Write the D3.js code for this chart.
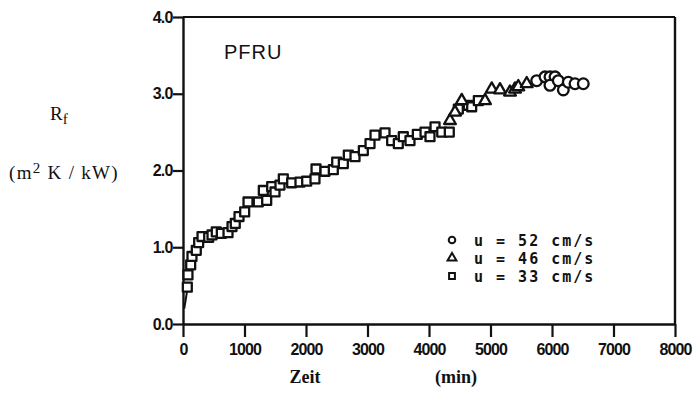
<!DOCTYPE html>
<html>
<head>
<meta charset="utf-8">
<script src="https://cdn.jsdelivr.net/npm/d3@7"></script>
<style>
  body { margin: 0; background: #fff; }
  svg { display: block; }
</style>
</head>
<body>
<div id="chart"></div>
<script>
// data (Zeit in min, Rf in m2K/kW)
var xTicks = [0, 1000, 2000, 3000, 4000, 5000, 6000, 7000, 8000];
var yTicks = [0, 1, 2, 3, 4];

var squareT = [70, 81, 125, 146, 216, 255, 309, 418, 472, 541, 623, 732, 797, 850, 911, 1003, 1057, 1224,
  1361, 1306, 1442, 1496, 1577, 1631, 1767, 1902, 2011, 2146, 2163, 2309, 2444, 2499, 2607, 2688, 2797,
  2932, 3041, 3122, 3285, 3393, 3501, 3582, 3691, 3810, 3935, 4016, 4098, 4207, 4330, 4477, 4639, 4694, 4802];
var squareR = [0.48, 0.64, 0.77, 0.88, 0.96, 1.06, 1.14, 1.13, 1.16, 1.20, 1.18, 1.19, 1.27, 1.31, 1.40, 1.46, 1.59, 1.59,
  1.61, 1.74, 1.79, 1.72, 1.81, 1.89, 1.84, 1.85, 1.86, 1.89, 2.02, 1.99, 2.01, 2.11, 2.09, 2.20, 2.18,
  2.26, 2.35, 2.46, 2.49, 2.39, 2.35, 2.44, 2.39, 2.47, 2.50, 2.44, 2.57, 2.50, 2.50, 2.80, 2.85, 2.83, 2.91];

var triangleT = [4341, 4423, 4532, 4911, 5020, 5154, 5317, 5398, 5452, 5589];
var triangleR = [2.65, 2.76, 2.91, 2.91, 3.06, 3.05, 3.02, 3.06, 3.09, 3.13];

var circleT = [5751, 5886, 5967, 6049, 5967, 6102, 6184, 6265, 6374, 6509];
var circleR = [3.17, 3.22, 3.22, 3.22, 3.11, 3.17, 3.05, 3.15, 3.13, 3.13];

// short hand-drawn start of the curve
var startT = [20, 45, 70];
var startR = [0.2, 0.32, 0.45];

var legendLabels = ["u = 52 cm/s", "u = 46 cm/s", "u = 33 cm/s"];

var svgWidth = 694, svgHeight = 398;

var svg = d3.select("#chart")
  .append("svg")
  .attr("width", svgWidth)
  .attr("height", svgHeight);

var xScale = d3.scaleLinear().domain([0, 8000]).range([183, 675]);
var yScale = d3.scaleLinear().domain([0, 4]).range([324, 17]);

var ink = "#111";
var tickFont = "'Liberation Sans Narrow', 'Arial Narrow', 'Liberation Sans', sans-serif";
var serif = "'Liberation Serif', 'DejaVu Serif', serif";

// axes
var bottomAxis = d3.axisBottom(xScale)
  .tickValues(xTicks)
  .tickSize(13)
  .tickSizeOuter(0)
  .tickFormat(d3.format("d"));

var leftAxis = d3.axisLeft(yScale)
  .tickValues(yTicks)
  .tickSize(10)
  .tickSizeOuter(0)
  .tickFormat(d3.format(".1f"));

var xg = svg.append("g")
  .attr("transform", `translate(0, ${yScale(0)})`)
  .call(bottomAxis);

var yg = svg.append("g")
  .attr("transform", `translate(${xScale(0)}, 0)`)
  .call(leftAxis);

[xg, yg].forEach(g => {
  g.select(".domain").attr("stroke", ink).attr("stroke-width", 2.4);
  g.selectAll(".tick line").attr("stroke", ink).attr("stroke-width", 2.2);
  g.selectAll(".tick text")
    .attr("fill", ink)
    .attr("font-family", tickFont)
    .attr("font-weight", "bold")
    .attr("font-size", 16)
    .attr("letter-spacing", -0.9);
});
xg.selectAll(".tick text").attr("dy", "0.95em");
yg.selectAll(".tick text").attr("dx", "0.15em");

// top and right frame
svg.append("line")
  .attr("x1", xScale(0)).attr("x2", xScale(8000))
  .attr("y1", yScale(4)).attr("y2", yScale(4))
  .attr("stroke", ink).attr("stroke-width", 2.2);
svg.append("line")
  .attr("x1", xScale(8000)).attr("x2", xScale(8000))
  .attr("y1", yScale(4)).attr("y2", yScale(0))
  .attr("stroke", ink).attr("stroke-width", 2.4);

// axis titles
svg.append("text")
  .attr("x", 305).attr("y", 383)
  .attr("text-anchor", "middle")
  .attr("font-family", serif).attr("font-weight", "bold").attr("font-size", 18)
  .attr("fill", ink)
  .text("Zeit");

svg.append("text")
  .attr("x", 456).attr("y", 383)
  .attr("text-anchor", "middle")
  .attr("font-family", serif).attr("font-weight", "bold").attr("font-size", 18)
  .attr("fill", ink)
  .text("(min)");

var rf = svg.append("text")
  .attr("x", 50).attr("y", 120)
  .attr("font-family", serif).attr("font-size", 19)
  .attr("fill", ink);
rf.append("tspan").text("R");
rf.append("tspan").attr("font-size", 15).attr("dy", 4).text("f");

var unit = svg.append("text")
  .attr("x", 9).attr("y", 179)
  .attr("font-family", serif).attr("font-size", 19)
  .attr("letter-spacing", 1.3)
  .attr("fill", ink);
unit.append("tspan").text("(m");
unit.append("tspan").attr("font-size", 15).attr("dy", -6).text("2");
unit.append("tspan").attr("dy", 6).text(" K / kW)");

// panel label
svg.append("text")
  .attr("x", 224).attr("y", 59)
  .attr("font-family", "'Liberation Sans', Arial, sans-serif").attr("font-size", 20)
  .attr("letter-spacing", 1)
  .attr("fill", ink)
  .text("PFRU");

// data marks
var dataGroup = svg.append("g");
var markStyle = sel => sel.attr("fill", "#fff").attr("stroke", ink).attr("stroke-width", 2.3);

dataGroup.append("path")
  .datum(d3.range(startT.length))
  .attr("fill", "none").attr("stroke", ink).attr("stroke-width", 2)
  .attr("d", d3.line().x(i => xScale(startT[i])).y(i => yScale(startR[i])));

var sqSym = d3.symbol().type(d3.symbolSquare).size(80);
var triSym = d3.symbol().type(d3.symbolTriangle).size(60);
var circSym = d3.symbol().type(d3.symbolCircle).size(90);

dataGroup.selectAll(".sq")
  .data(d3.range(squareT.length))
  .enter().append("path")
  .attr("class", "sq")
  .attr("transform", i => `translate(${xScale(squareT[i])}, ${yScale(squareR[i])})`)
  .attr("d", sqSym)
  .attr("stroke-linejoin", "round")
  .call(markStyle);

dataGroup.selectAll(".tri")
  .data(d3.range(triangleT.length))
  .enter().append("path")
  .attr("class", "tri")
  .attr("transform", i => `translate(${xScale(triangleT[i])}, ${yScale(triangleR[i])})`)
  .attr("d", triSym)
  .attr("stroke-linejoin", "round")
  .call(markStyle);

dataGroup.selectAll(".circ")
  .data(d3.range(circleT.length))
  .enter().append("path")
  .attr("class", "circ")
  .attr("transform", i => `translate(${xScale(circleT[i])}, ${yScale(circleR[i])})`)
  .attr("d", circSym)
  .call(markStyle);

// legend
var legendSyms = [d3.symbolCircle, d3.symbolTriangle, d3.symbolSquare];
var legend = svg.append("g").attr("transform", "translate(452, 240)");
legendLabels.forEach((lab, i) => {
  legend.append("path")
    .attr("transform", `translate(0, ${i * 18})`)
    .attr("d", d3.symbol().type(legendSyms[i]).size(34))
    .attr("fill", "#fff").attr("stroke", ink).attr("stroke-width", 2);
  legend.append("text")
    .attr("x", 22).attr("y", i * 18 + 6)
    .attr("font-family", "'DejaVu Sans Mono', monospace").attr("font-size", 15)
    .attr("font-weight", "bold")
    .attr("letter-spacing", 2)
    .attr("fill", ink)
    .text(lab);
});
</script>
</body>
</html>
